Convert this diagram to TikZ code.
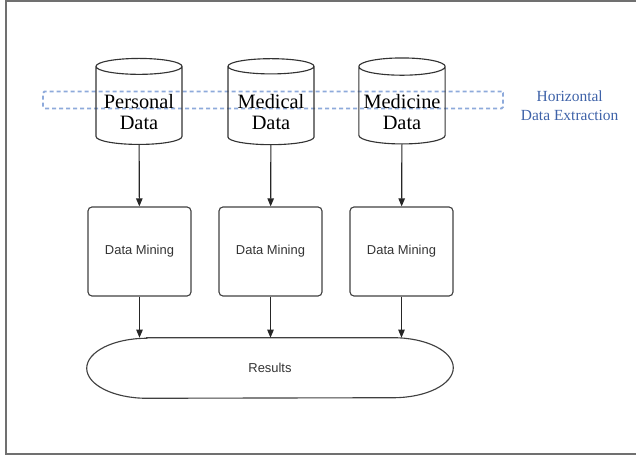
\documentclass[tikz,border=0pt]{standalone}
\usepackage{fontspec}
\setmainfont{Liberation Serif}
\newfontfamily\arialfont{Liberation Sans}
\usepackage{tikz}
\usetikzlibrary{positioning,arrows.meta,shapes.geometric}
\definecolor{frame}{HTML}{707070}
\definecolor{extract}{HTML}{8EAADB}
\definecolor{note}{HTML}{3E62A8}
\newcommand{\dbtop}{\rule{0pt}{17pt}}

\begin{document}
\begin{tikzpicture}[x=0.25mm,y=-0.25mm,
 dbase/.style={cylinder,shape border rotate=90,aspect=0.2,draw=black!80,thick,
 minimum width=21.5mm,minimum height=21.5mm,align=center,
 font=\fontsize{14.5}{15}\selectfont},
 mining/.style={draw=black!75,thick,rounded corners=1mm,minimum width=25.75mm,
 minimum height=22.25mm,font=\arialfont\fontsize{9.2}{11}\selectfont,text=black!80},
 arr/.style={-{Triangle[length=2mm,width=1.6mm]},thick,draw=black!85}]
\useasboundingbox (0,0) rectangle (636,456);
\draw[frame,line width=1.4pt] (636,1) -- (6,1) -- (6,454) -- (636,454);
% horizontal extraction band
\node[draw=extract,line width=1.4pt,dash pattern=on 1mm off 0.75mm,rounded corners=1pt,
 minimum width=115mm,minimum height=4.25mm] (extract) at (273,100) {};
\node[right=3mm of extract,yshift=-1.5mm,align=center,text=note,
 font=\fontsize{11}{13.5}\selectfont] (extractlbl) {Horizontal\\Data Extraction};
% sources
\node[dbase] (personal) at (139,107.5) {\dbtop Personal\\Data};
\node[dbase] (medical) at (271,107.5) {\dbtop Medical\\Data};
\node[dbase] (medicine) at (402,107.5) {\dbtop Medicine\\Data};
% mining steps
\node[mining] (pmine) at (139.5,251.5) {Data Mining};
\node[mining] (mmine) at (270.5,251.5) {Data Mining};
\node[mining] (dmine) at (401.5,251.5) {Data Mining};
% results
\node[minimum width=91.5mm,minimum height=15mm,text=black!80,
 font=\arialfont\fontsize{9.2}{11}\selectfont] (results) at (270,368) {Results};
\draw[thick,draw=black!75] ([xshift=15mm]results.north west) -- ([xshift=-15mm]results.north east)
 arc[start angle=90,end angle=-90,x radius=15mm,y radius=7.5mm]
 -- ([xshift=15mm]results.south west)
 arc[start angle=270,end angle=90,x radius=15mm,y radius=7.5mm] -- cycle;
\draw[arr] (personal) -- (pmine);
\draw[arr] (medical) -- (mmine);
\draw[arr] (medicine) -- (dmine);
\draw[arr] (pmine.south) -- (pmine.south |- results.north);
\draw[arr] (mmine.south) -- (mmine.south |- results.north);
\draw[arr] (dmine.south) -- (dmine.south |- results.north);
\end{tikzpicture}
\end{document}
